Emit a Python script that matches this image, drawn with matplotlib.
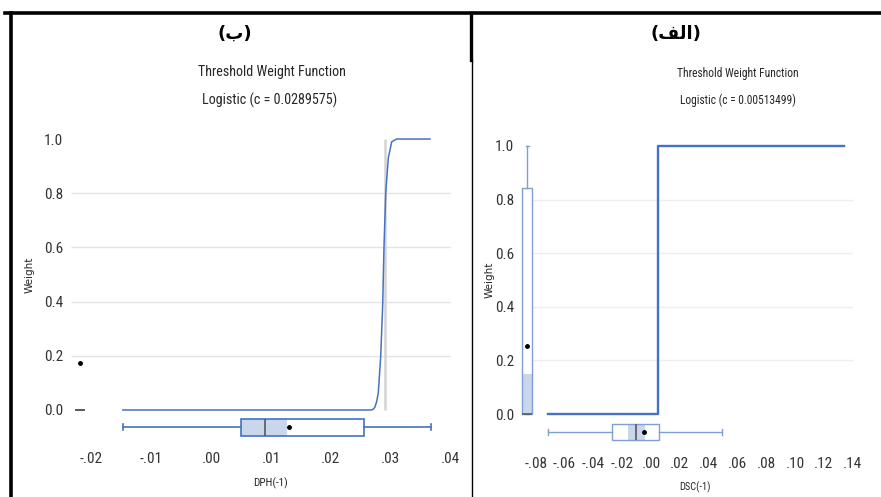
import matplotlib
matplotlib.use('Agg')
import matplotlib.pyplot as plt
from matplotlib.lines import Line2D
from matplotlib import font_manager

# ---------------- data ----------------
# Panel (ب): DPH(-1), logistic threshold weight function
dph_curve_x = [-0.0147, 0.0266, 0.0270, 0.0273, 0.0276, 0.02788, 0.02828, 0.02862,
               0.02883, 0.02912, 0.02955, 0.03012, 0.03095, 0.0365]
dph_curve_w = [0.0, 0.0, 0.002, 0.01, 0.03, 0.063, 0.196, 0.39,
               0.6, 0.8, 0.93, 0.99, 1.0, 1.0]
dph_c = 0.0289575
dph_xbox = dict(whislo=-0.0147, q1=0.005, med=0.009, q3=0.0255, whishi=0.0367,
                mean=0.013, fliers=[])
dph_xshade = (0.005, 0.0127)
dph_wbox = dict(whislo=0.0, q1=0.0, med=0.0, q3=0.0, whishi=0.0, mean=0.173, fliers=[])

# Panel (الف): DSC(-1), step threshold weight function
dsc_step_x = [-0.0715, 0.00513499, 0.134]
dsc_step_w = [0.0, 1.0, 1.0]
dsc_c = 0.00513499
dsc_xbox = dict(whislo=-0.0715, q1=-0.027, med=-0.0104, q3=0.0055, whishi=0.049,
                mean=-0.005, fliers=[])
dsc_xshade = (-0.016, -0.004)
dsc_wbox = dict(whislo=0.0, q1=0.0, med=0.0, q3=0.845, whishi=1.0, mean=0.253, fliers=[])
dsc_wshade = (0.0, 0.149)

y_ticks = [0.0, 0.2, 0.4, 0.6, 0.8, 1.0]
y_ticklabels = ['0.0', '0.2', '0.4', '0.6', '0.8', '1.0']
grid_levels = [0.2, 0.4, 0.6, 0.8]
dph_xticks = [-0.02, -0.01, 0.0, 0.01, 0.02, 0.03, 0.04]
dph_xticklabels = ['-.02', '-.01', '.00', '.01', '.02', '.03', '.04']
dsc_xticks = [-0.08, -0.06, -0.04, -0.02, 0.0, 0.02, 0.04, 0.06, 0.08, 0.10, 0.12, 0.14]
dsc_xticklabels = ['-.08', '-.06', '-.04', '-.02', '.00', '.02', '.04', '.06', '.08',
                   '.10', '.12', '.14']

# ---------------- style ----------------
_avail = {f.name for f in font_manager.fontManager.ttflist}
_narrow = next((n for n in ['Liberation Sans Narrow', 'Arial Narrow', 'Roboto Condensed',
                            'Open Sans Condensed', 'Lato'] if n in _avail), 'DejaVu Sans')
NARROW = [_narrow, 'DejaVu Sans']
BLUE = '#4472C4'
LBLUE = '#7F9FD6'
SHADE = '#CAD6EB'
GRID = '#E4E4E4'
TXT = '#333333'

W, H = 881, 497
fig = plt.figure(figsize=(W / 100, H / 100), dpi=100)


def fx(px):
    return px / W


def fy(py):
    return 1 - py / H


def bxp(ax, stats, pos, width, horizontal, color, lw, capw, zorder=3):
    kw = dict(positions=[pos], widths=[width], patch_artist=True, showmeans=True,
              showfliers=False, manage_ticks=False, capwidths=[capw],
              boxprops=dict(facecolor='none', edgecolor=color, linewidth=lw),
              whiskerprops=dict(color=color, linewidth=lw),
              capprops=dict(color=color, linewidth=lw),
              medianprops=dict(color='#595959', linewidth=1.2),
              meanprops=dict(marker='o', markerfacecolor='black', markeredgecolor='black',
                             markersize=2.5),
              zorder=zorder)
    try:
        ax.bxp([stats], orientation='horizontal' if horizontal else 'vertical', **kw)
    except TypeError:
        ax.bxp([stats], vert=not horizontal, **kw)


def style_axes(ax, xticks, xlabels, fs):
    ax.set_yticks(y_ticks)
    ax.set_yticklabels(y_ticklabels, family=NARROW, fontsize=fs, color=TXT)
    ax.set_xticks(xticks)
    ax.set_xticklabels(xlabels, family=NARROW, fontsize=fs, color=TXT)
    ax.tick_params(length=0)
    for s in ax.spines.values():
        s.set_visible(False)
    ax.patch.set_alpha(0)


# ---------------- left panel (ب) ----------------
ax1 = fig.add_axes([fx(70), fy(439.8), fx(451) - fx(70), fy(133.6) - fy(439.8)])
ax1.set_xlim(-0.0235, 0.0400)
ax1.set_ylim(-0.11, 1.02)
ax1.hlines(grid_levels, -0.0233, 0.0400, color=GRID, linewidth=1.0, zorder=1)
ax1.vlines(dph_c, 0.0, 1.0, color='#D4D4D4', linewidth=1.8, zorder=2)
ax1.plot(dph_curve_x, dph_curve_w, color=BLUE, linewidth=1.1, zorder=3)
# box plot of DPH(-1)
ax1.barh(-0.063, dph_xshade[1] - dph_xshade[0], left=dph_xshade[0], height=0.063,
         color=SHADE, zorder=2)
bxp(ax1, dph_xbox, -0.063, 0.063, True, BLUE, 1.2, 0.02)
# box plot of weights (degenerate)
bxp(ax1, dph_wbox, -0.0218, 0.0017, False, BLUE, 1.2, 0.001)
style_axes(ax1, dph_xticks, dph_xticklabels, 11)
ax1.tick_params(axis='y', pad=5)
ax1.tick_params(axis='x', pad=9)

# ---------------- right panel (الف) ----------------
ax2 = fig.add_axes([fx(518.5), fy(443.5), fx(852.6) - fx(518.5), fy(140.6) - fy(443.5)])
ax2.set_xlim(-0.092, 0.14)
ax2.set_ylim(-0.11, 1.02)
ax2.hlines(grid_levels, -0.0826, 0.14, color='#EEEEEE', linewidth=1.0, zorder=1)
ax2.step(dsc_step_x, dsc_step_w, where='post', color=BLUE, linewidth=1.7, zorder=3)
# box plot of DSC(-1)
ax2.barh(-0.067, dsc_xshade[1] - dsc_xshade[0], left=dsc_xshade[0], height=0.06,
         color=SHADE, zorder=2)
bxp(ax2, dsc_xbox, -0.067, 0.06, True, LBLUE, 1.0, 0.02)
# box plot of weights
ax2.bar(-0.086, dsc_wshade[1] - dsc_wshade[0], bottom=dsc_wshade[0], width=0.0069,
        color=SHADE, zorder=2)
bxp(ax2, dsc_wbox, -0.086, 0.0069, False, LBLUE, 1.0, 0.002)
style_axes(ax2, dsc_xticks, dsc_xticklabels, 11)
ax2.tick_params(axis='y', pad=3)
ax2.tick_params(axis='x', pad=10)

# ---------------- texts ----------------
fig.text(fx(235), fy(34), '(ب)', ha='center', va='center', fontsize=13,
         fontweight='bold', family=['DejaVu Sans'])
fig.text(fx(272), fy(72), 'Threshold Weight Function', ha='center', va='center',
         fontsize=10.2, family=NARROW, color='#262626')
fig.text(fx(270), fy(100), 'Logistic (c = 0.0289575)', ha='center', va='center',
         fontsize=10.2, family=NARROW, color='#262626')
fig.text(fx(30), fy(275), 'Weight', rotation=90, ha='center', va='center',
         fontsize=7.5, family=['DejaVu Sans'], color='#262626')
fig.text(fx(270), fy(483), 'DPH(-1)', ha='center', va='center', fontsize=8,
         family=NARROW, color='#262626')

fig.text(fx(676), fy(34), '(ﻒﻟﺍ)', ha='center', va='center', fontsize=13,
         fontweight='bold', family=['DejaVu Sans'])
fig.text(fx(738), fy(73), 'Threshold Weight Function', ha='center', va='center',
         fontsize=8.3, family=NARROW, color='#262626')
fig.text(fx(738), fy(100), 'Logistic (c = 0.00513499)', ha='center', va='center',
         fontsize=8.3, family=NARROW, color='#262626')
fig.text(fx(490), fy(280), 'Weight', rotation=90, ha='center', va='center',
         fontsize=7.5, family=['DejaVu Sans'], color='#262626')
fig.text(fx(695), fy(487), 'DSC(-1)', ha='center', va='center', fontsize=7.5,
         family=NARROW, color='#262626')

# ---------------- frame lines ----------------
fig.add_artist(Line2D([fx(5), fx(881)], [fy(13), fy(13)], color='black', linewidth=2.6))
fig.add_artist(Line2D([fx(10.5), fx(10.5)], [fy(13), fy(497)], color='black', linewidth=2.6))
fig.add_artist(Line2D([fx(470.5), fx(470.5)], [fy(13), fy(60)], color='black', linewidth=2.4))
fig.add_artist(Line2D([fx(471.5), fx(471.5)], [fy(60), fy(497)], color='black', linewidth=1.0))

fig.savefig('out.png', dpi=100)
